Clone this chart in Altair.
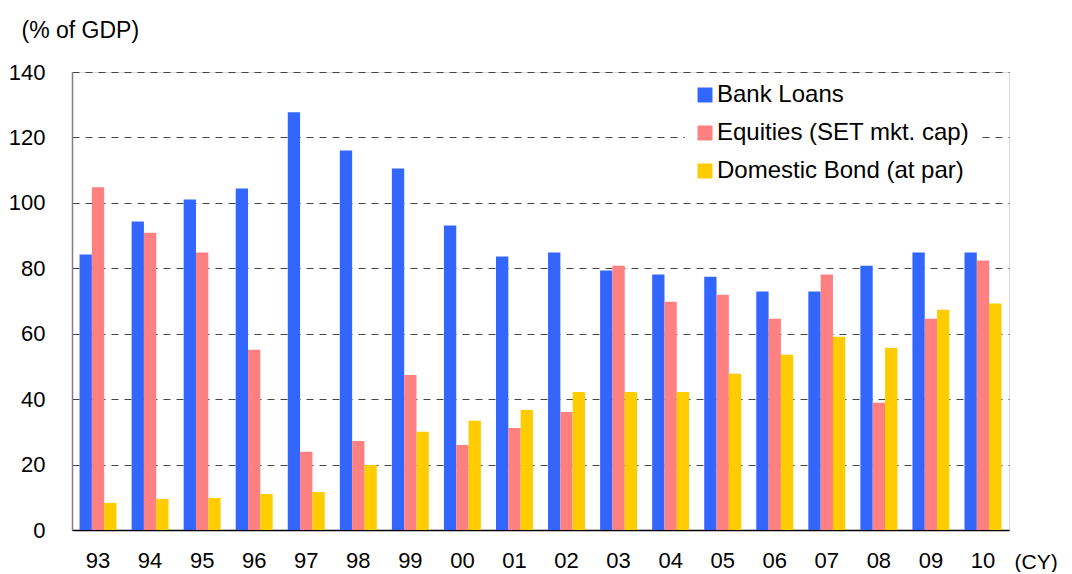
import altair as alt
import pandas as pd

years = ["93", "94", "95", "96", "97", "98", "99", "00", "01", "02",
         "03", "04", "05", "06", "07", "08", "09", "10"]
series = ["Bank Loans", "Equities (SET mkt. cap)", "Domestic Bond (at par)"]
colors = ["#3366FF", "#FF8080", "#FFCC00"]

bank_loans = [84.2, 94.3, 101.0, 104.4, 127.7, 116.0, 110.5, 93.1, 83.6, 84.8,
              79.3, 78.1, 77.4, 72.9, 72.9, 80.8, 84.8, 84.8]
equities = [104.8, 90.9, 84.8, 55.1, 23.9, 27.2, 47.4, 26.0, 31.2, 36.1,
            80.8, 69.8, 71.9, 64.6, 78.1, 38.9, 64.6, 82.4]
bonds = [8.3, 9.5, 9.8, 11.0, 11.6, 19.9, 30.0, 33.4, 36.7, 42.2,
         42.2, 42.2, 47.8, 53.6, 59.1, 55.7, 67.3, 69.2]

rows = []
for name, vals in zip(series, [bank_loans, equities, bonds]):
    for y, v in zip(years, vals):
        rows.append({"year": y, "series": name, "value": v})
df = pd.DataFrame(rows)

FONT = "Liberation Sans"

chart = alt.Chart(df).mark_bar().encode(
    x=alt.X("year:N", sort=years,
            scale=alt.Scale(paddingInner=0.29, paddingOuter=0.145),
            axis=alt.Axis(title="(CY)", labelAngle=0, ticks=False, labelPadding=20,
                          labelFontSize=22, labelFont=FONT, labelColor="black",
                          domainColor="black", domainWidth=1.5,
                          titleFont=FONT, titleFontSize=21, titleFontWeight="normal",
                          titleColor="black", titleX=942, titleY=32,
                          titleAlign="left", titleBaseline="middle", titleAnchor="start")),
    xOffset=alt.XOffset("series:N", sort=series,
                        scale=alt.Scale(paddingInner=0, paddingOuter=0)),
    y=alt.Y("value:Q", scale=alt.Scale(domain=[0, 140], nice=False),
            axis=alt.Axis(title="(% of GDP)", values=[0, 20, 40, 60, 80, 100, 120, 140],
                          ticks=False, labelPadding=27, labelFontSize=22, labelFont=FONT,
                          labelColor="black", domainColor="#808080", domainWidth=1.5,
                          grid=True, gridDash=[7, 6], gridColor="#444444", gridWidth=1.2,
                          titleFont=FONT, titleFontSize=23, titleFontWeight="normal",
                          titleColor="black", titleAngle=0, titleX=-51, titleY=-42,
                          titleAlign="left", titleBaseline="middle", titleAnchor="start")),
    color=alt.Color("series:N", sort=series,
                    scale=alt.Scale(domain=series, range=colors),
                    legend=alt.Legend(title=None, orient="none", legendX=613, legendY=3,
                                      symbolType="square", symbolSize=225,
                                      symbolStrokeWidth=0, labelFontSize=24,
                                      labelFont=FONT, labelColor="black",
                                      labelOffset=0, rowPadding=14, padding=8,
                                      fillColor="white", labelLimit=400)),
).properties(
    width=937, height=458,
    autosize=alt.AutoSizeParams(type="none"),
    padding={"left": 64, "top": 64, "right": 55, "bottom": 42},
).configure_view(stroke=None).configure(background="white")

chart.save("out.html", embed_options={"renderer": "svg", "actions": False})
